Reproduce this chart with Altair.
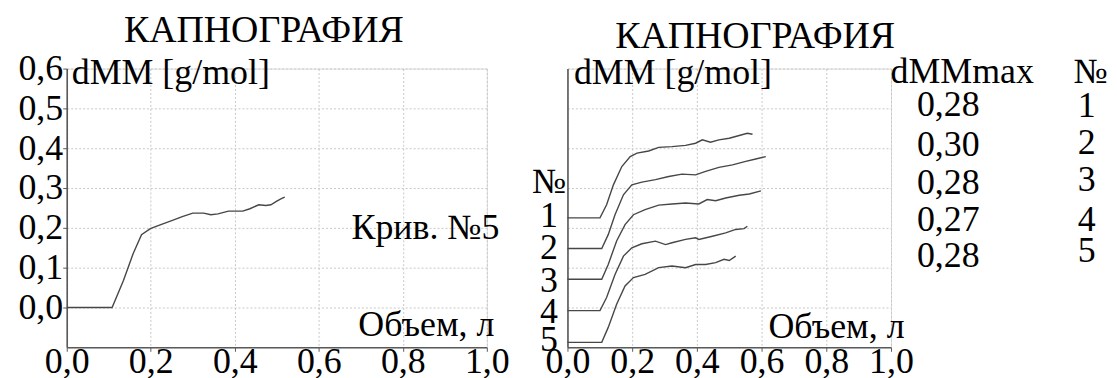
import altair as alt
import pandas as pd

FONT = "Liberation Serif"

# ---------------- data ----------------
x_ticks = [0.0, 0.2, 0.4, 0.6, 0.8, 1.0]
y_ticks = [0.0, 0.1, 0.2, 0.3, 0.4, 0.5, 0.6]

# left panel: curve No.5
left_x = [0, 0.108, 0.135, 0.158, 0.178, 0.199, 0.224, 0.25, 0.275, 0.30, 0.326, 0.343,
          0.36, 0.385, 0.419, 0.436, 0.457, 0.474, 0.486, 0.5, 0.512, 0.519]
left_y = [0, 0, 0.068, 0.135, 0.183, 0.198, 0.208, 0.218, 0.228, 0.237, 0.237, 0.233,
          0.235, 0.242, 0.242, 0.248, 0.258, 0.256, 0.258, 0.267, 0.274, 0.277]

# right panel: five stacked curves (as drawn, with offsets)
c1_x = [0, 0.1005, 0.121, 0.142, 0.168, 0.194, 0.215, 0.251, 0.282, 0.323, 0.365, 0.396,
        0.417, 0.442, 0.468, 0.5, 0.531, 0.556, 0.572]
c1_y = [0.225, 0.225, 0.258, 0.308, 0.354, 0.379, 0.3875, 0.393, 0.402, 0.404, 0.407, 0.4125,
        0.421, 0.415, 0.421, 0.425, 0.432, 0.4375, 0.435]
c2_x = [0, 0.106, 0.126, 0.147, 0.173, 0.199, 0.23, 0.272, 0.313, 0.354, 0.396, 0.427,
        0.468, 0.51, 0.551, 0.582, 0.613]
c2_y = [0.148, 0.148, 0.183, 0.233, 0.283, 0.308, 0.315, 0.321, 0.329, 0.335, 0.333, 0.342,
        0.352, 0.358, 0.367, 0.373, 0.379]
c3_x = [0, 0.106, 0.126, 0.152, 0.178, 0.204, 0.24, 0.282, 0.323, 0.365, 0.406, 0.432,
        0.458, 0.489, 0.531, 0.562, 0.598]
c3_y = [0.071, 0.071, 0.108, 0.167, 0.208, 0.233, 0.246, 0.257, 0.26, 0.2625, 0.26, 0.271,
        0.268, 0.275, 0.282, 0.285, 0.293]
c4_x = [0, 0.1005, 0.121, 0.147, 0.173, 0.199, 0.23, 0.272, 0.303, 0.323, 0.365, 0.396,
        0.406, 0.448, 0.489, 0.52, 0.546, 0.556]
c4_y = [-0.008, -0.008, 0.025, 0.083, 0.129, 0.15, 0.16, 0.1667, 0.158, 0.1625, 0.171, 0.175,
        0.171, 0.179, 0.1875, 0.196, 0.198, 0.204]
c5_x = [0, 0.106, 0.126, 0.152, 0.178, 0.204, 0.24, 0.282, 0.323, 0.365, 0.396, 0.427,
        0.458, 0.484, 0.5, 0.52]
c5_y = [-0.0875, -0.0875, -0.05, 0.008, 0.054, 0.075, 0.083, 0.1, 0.104, 0.1, 0.108, 0.108,
        0.1125, 0.121, 0.118, 0.129]

curve_ids = ["1", "2", "3", "4", "5"]
dmm_max = ["0,28", "0,30", "0,28", "0,27", "0,28"]

title_text = "КАПНОГРАФИЯ"
y_label = "dMM [g/mol]"
x_label = "Объем, л"
curve_label = "Крив. №5"

# ---------------- tables ----------------
left_df = pd.DataFrame({"x": left_x, "y": left_y})
rows = []
for cid, xs, ys in zip(curve_ids, [c1_x, c2_x, c3_x, c4_x, c5_x],
                       [c1_y, c2_y, c3_y, c4_y, c5_y]):
    for xv, yv in zip(xs, ys):
        rows.append({"curve": cid, "x": xv, "y": yv})
right_df = pd.DataFrame(rows)

comma = "replace(format(datum.value, '.1f'), '.', ',')"
FS = 36
LINE = "#474747"

axis_common = dict(domainColor="#5a5a5a", domainWidth=1.6, tickColor="#5a5a5a",
                   tickSize=4, labelFont=FONT, labelFontSize=FS, labelColor="black",
                   gridColor="#c8c8c8", gridDash=[2, 2], gridWidth=1, labelFlush=False,
                   labelOverlap=False)

xscale = alt.Scale(domain=[0, 1], nice=False, zero=False)
yscale = alt.Scale(domain=[-0.1, 0.6], nice=False, zero=False)


def title(dx, dy):
    return alt.TitleParams(title_text, font=FONT, fontSize=38, fontWeight="normal",
                           color="black", dx=dx, dy=dy, offset=1, frame="group")


def text_layer(df, align, baseline="alphabetic"):
    return alt.Chart(df).mark_text(font=FONT, fontSize=FS, color="black", align=align,
                                   baseline=baseline).encode(
        x=alt.X("x:Q", scale=xscale), y=alt.Y("y:Q", scale=yscale), text="t:N")


# ---------------- left panel ----------------
left_base = alt.Chart(left_df).mark_line(color=LINE, strokeWidth=1.4).encode(
    x=alt.X("x:Q", scale=xscale, title=None,
            axis=alt.Axis(values=x_ticks, labelExpr=comma, labelPadding=-7, **axis_common)),
    y=alt.Y("y:Q", scale=yscale, title=None,
            axis=alt.Axis(values=y_ticks, labelExpr=comma, labelPadding=0, **axis_common)),
)
left_texts_l = text_layer(pd.DataFrame({"x": [0.012], "y": [0.56], "t": [y_label]}), "left")
left_texts_r = text_layer(pd.DataFrame({"x": [1.03, 1.018], "y": [0.1725, -0.0725],
                                        "t": [curve_label, x_label]}), "right")
left = alt.layer(left_base, left_texts_l, left_texts_r).properties(
    width=422, height=280, title=title(-13, 0))

# ---------------- right panel ----------------
right_base = alt.Chart(right_df).mark_line(color=LINE, strokeWidth=1.4).encode(
    x=alt.X("x:Q", scale=xscale, title=None,
            axis=alt.Axis(values=x_ticks, labelExpr=comma, labelPadding=-7, **axis_common)),
    y=alt.Y("y:Q", scale=yscale, title=None,
            axis=alt.Axis(values=y_ticks, labels=False, ticks=False, **axis_common)),
    detail="curve:N",
)
num_df = pd.DataFrame({"x": [-0.057] * 6,
                       "y": [0.315, 0.23, 0.15, 0.0675, -0.0125, -0.0825],
                       "t": ["№"] + curve_ids})
right_nums = text_layer(num_df, "center", "middle")
right_texts_l = text_layer(pd.DataFrame({"x": [0.02], "y": [0.56], "t": [y_label]}), "left")
right_texts_r = text_layer(pd.DataFrame({"x": [1.042], "y": [-0.0775], "t": [x_label]}), "right")
table_df = pd.DataFrame({
    "x": [1.22] + [1.177] * 5 + [1.617] + [1.605] * 5,
    "y": [0.565, 0.48, 0.38, 0.285, 0.1925, 0.1025, 0.565, 0.4775, 0.385, 0.2925, 0.1925, 0.115],
    "t": ["dMMmax"] + dmm_max + ["№"] + curve_ids,
})
right_table = text_layer(table_df, "center")
right = alt.layer(right_base, right_nums, right_texts_l, right_texts_r, right_table).properties(
    width=325, height=280, title=title(26, 3))

chart = alt.hconcat(left, right, spacing=81, bounds="flush").configure_view(
    stroke=None).configure(padding={"left": 9, "top": 2, "right": 0, "bottom": 0})

chart.save("out.html", embed_options={"renderer": "svg", "actions": False})
